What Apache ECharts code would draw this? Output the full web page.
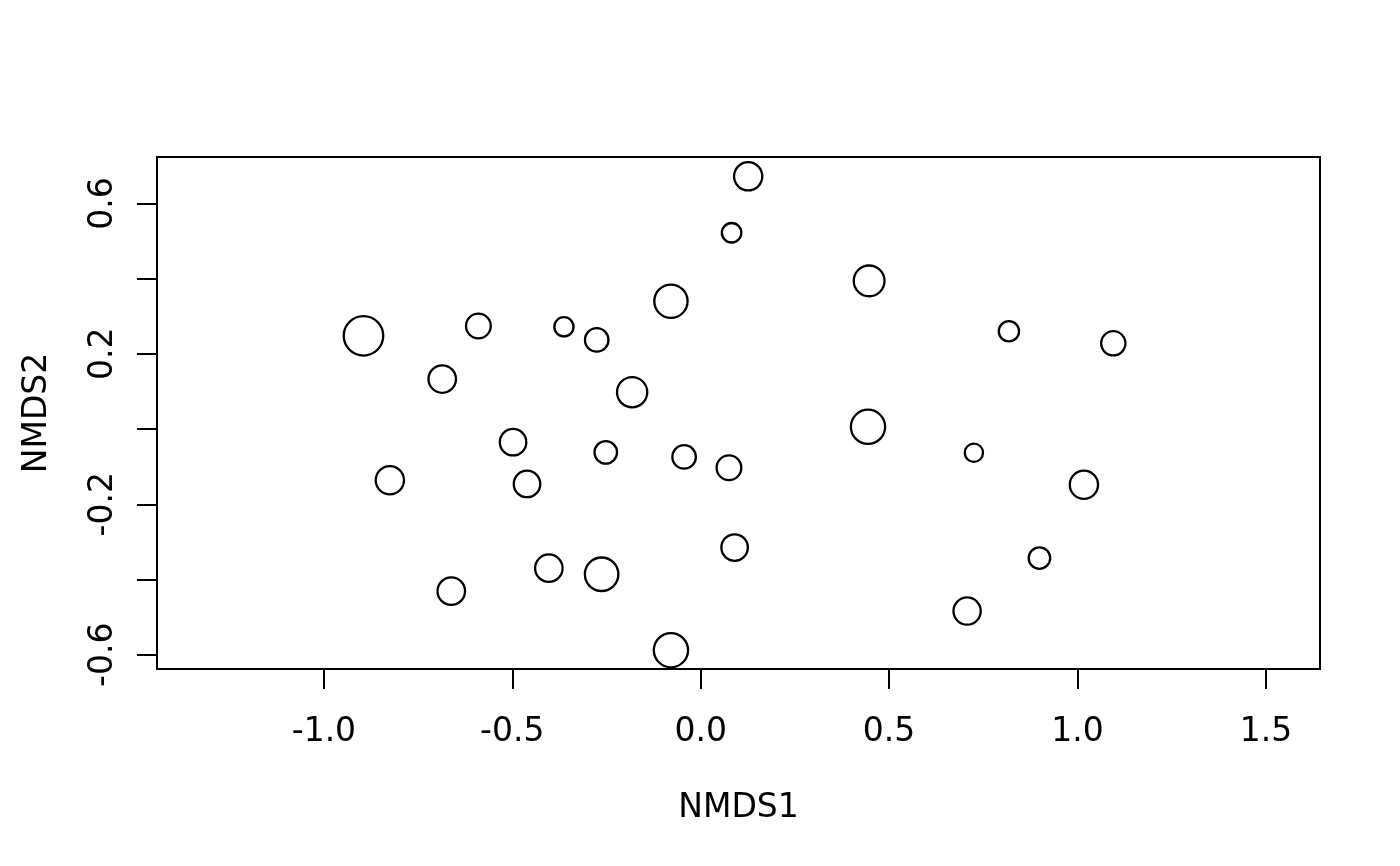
<!DOCTYPE html>
<html>
<head>
<meta charset="utf-8">
<script src="https://cdn.jsdelivr.net/npm/echarts@6/dist/echarts.min.js"></script>
<style>
  html, body { margin: 0; padding: 0; background: #fff; }
  #chart { width: 1400px; height: 866px; }
</style>
</head>
<body>
<div id="chart"></div>
<script>
(function () {
    'use strict';

    // NMDS site scores and point size (cex).
    var NMDS1 = [
        0.126, 0.082, 0.447, -0.079, -0.895, -0.590, -0.363, -0.276, 0.818, 1.095,
        -0.686, -0.182, 0.444, -0.498, -0.252, -0.044, 0.075, 0.725, -0.825, -0.461,
        1.017, 0.090, 0.899, -0.403, -0.263, -0.662, 0.707, -0.079
    ];
    var NMDS2 = [
        0.672, 0.522, 0.394, 0.340, 0.248, 0.274, 0.272, 0.237, 0.260, 0.228,
        0.133, 0.098, 0.006, -0.035, -0.062, -0.074, -0.103, -0.063, -0.136, -0.146,
        -0.148, -0.315, -0.343, -0.370, -0.386, -0.431, -0.484, -0.588
    ];
    var CEX = [
        1.13, 0.78, 1.23, 1.33, 1.58, 0.99, 0.77, 0.94, 0.81, 0.97,
        1.10, 1.21, 1.37, 1.06, 0.90, 0.94, 0.99, 0.73, 1.13, 1.06,
        1.13, 1.06, 0.86, 1.10, 1.34, 1.10, 1.09, 1.37
    ];

    var X_TICKS = [-1.0, -0.5, 0.0, 0.5, 1.0, 1.5];
    var Y_TICKS = [-0.6, -0.4, -0.2, 0.0, 0.2, 0.4, 0.6];
    var Y_LABELS = [-0.6, -0.2, 0.2, 0.6];

    var FONT = 'DejaVu Sans';
    var PX_PER_CEX = 25;

    var points = NMDS1.map(function (x, i) { return [x, NMDS2[i], CEX[i]]; });

    function fmt(v) { return Number(v).toFixed(1); }

    var chart = echarts.init(document.getElementById('chart'));

    var option = {
        animation: false,
        backgroundColor: '#fff',
        grid: {
            left: 157, right: 80, top: 157, bottom: 197,
            show: true, borderColor: '#000', borderWidth: 2, backgroundColor: 'transparent'
        },
        xAxis: {
            type: 'value',
            min: -1.443, max: 1.6436,
            name: 'NMDS1', nameLocation: 'middle', nameGap: 123,
            nameTextStyle: { fontFamily: FONT, fontSize: 33, color: '#000' },
            splitLine: { show: false },
            axisLine: { show: false, onZero: false },
            axisTick: { show: true, length: 20, lineStyle: { color: '#000', width: 2 }, customValues: X_TICKS },
            axisLabel: {
                customValues: X_TICKS, formatter: fmt, margin: 47,
                fontFamily: FONT, fontSize: 33, color: '#000'
            }
        },
        yAxis: {
            type: 'value',
            min: -0.638, max: 0.7234,
            name: 'NMDS2', nameLocation: 'middle', nameGap: 103, nameRotate: 90,
            nameTextStyle: { fontFamily: FONT, fontSize: 33, color: '#000' },
            splitLine: { show: false },
            axisLine: { show: false, onZero: false },
            axisTick: { show: true, length: 20, lineStyle: { color: '#000', width: 2 }, customValues: Y_TICKS },
            axisLabel: {
                customValues: Y_LABELS, formatter: fmt, margin: 37, rotate: 90,
                fontFamily: FONT, fontSize: 33, color: '#000'
            }
        },
        series: [{
            type: 'scatter',
            data: points,
            symbol: 'circle',
            symbolSize: function (v) { return v[2] * PX_PER_CEX; },
            itemStyle: { color: 'rgba(0,0,0,0)', borderColor: '#000', borderWidth: 2.3, opacity: 1 },
            silent: true
        }]
    };

    chart.setOption(option);
})();
</script>
</body>
</html>
